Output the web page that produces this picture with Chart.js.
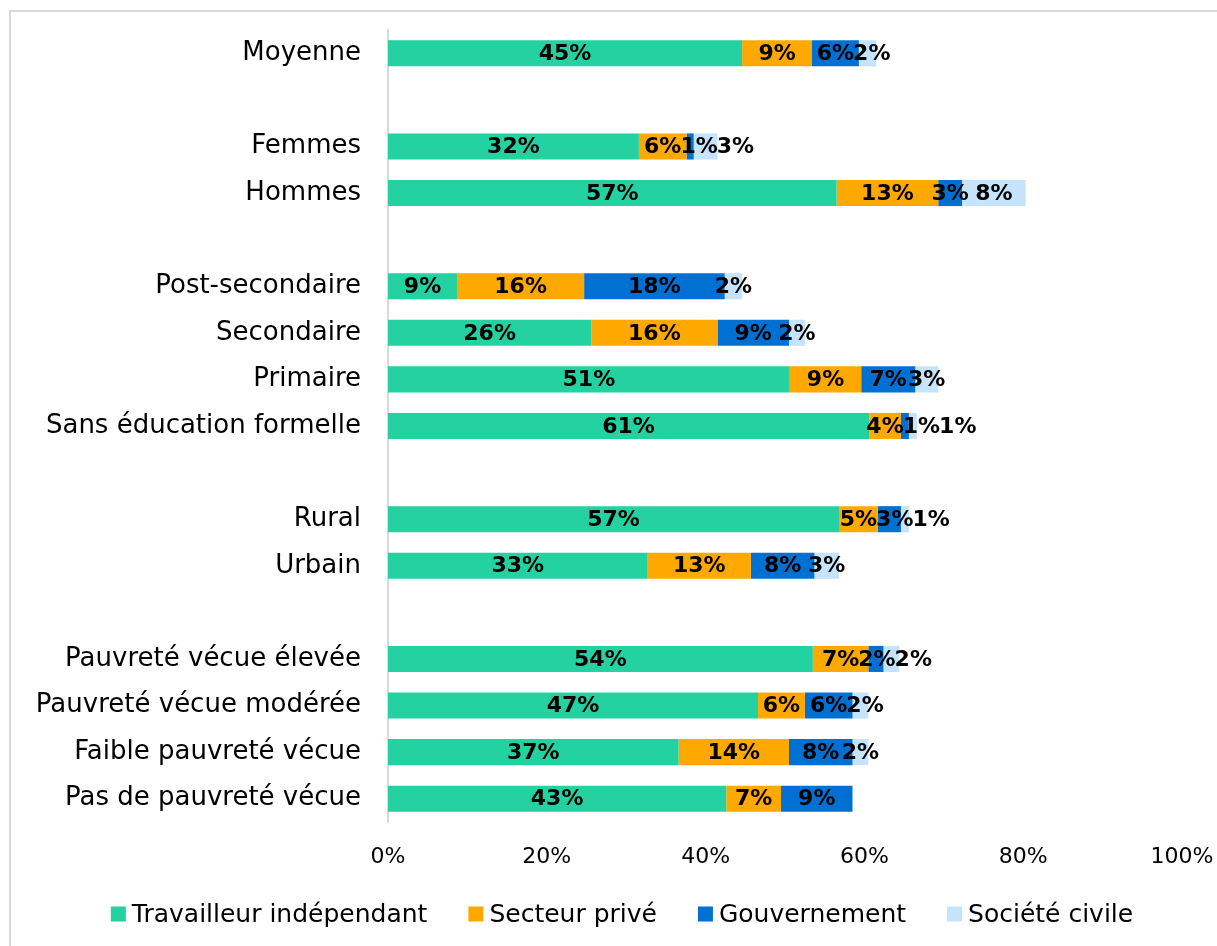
<!DOCTYPE html>
<html>
<head>
<meta charset="utf-8">
<script src="https://cdn.jsdelivr.net/npm/chart.js@4.4.1/dist/chart.umd.min.js"></script>
<style>
html,body{margin:0;padding:0;background:#fff;}
#wrap{width:1217px;height:946px;position:relative;}
</style>
</head>
<body>
<div id="wrap"><canvas id="c" width="1217" height="946"></canvas></div>
<script>
const categories = ['Moyenne', '', 'Femmes', 'Hommes', '', 'Post-secondaire', 'Secondaire', 'Primaire', 'Sans éducation formelle', '', 'Rural', 'Urbain', '', 'Pauvreté vécue élevée', 'Pauvreté vécue modérée', 'Faible pauvreté vécue', 'Pas de pauvreté vécue'];
const seriesNames = ['Travailleur indépendant', 'Secteur privé', 'Gouvernement', 'Société civile'];
const travailleurIndependant = [44.6, null, 31.6, 56.5, null, 8.7, 25.6, 50.6, 60.6, null, 56.8, 32.7, null, 53.5, 46.6, 36.6, 42.6];
const secteurPrive = [8.8, null, 6.0, 12.8, null, 16.0, 15.9, 9.0, 4.0, null, 4.9, 13.0, null, 7.0, 5.9, 13.9, 6.9];
const gouvernement = [5.9, null, 0.9, 3.0, null, 17.7, 9.0, 6.8, 1.0, null, 2.9, 8.0, null, 1.9, 6.0, 8.0, 9.0];
const societeCivile = [2.2, null, 3.0, 8.0, null, 2.2, 2.0, 2.9, 1.0, null, 1.0, 3.1, null, 2.0, 2.0, 2.0, 0];
const xTickValues = [0, 20, 40, 60, 80, 100];
const seriesColors = ['#24D1A1', '#FFA800', '#0070D2', '#C5E3FA'];

const seriesData = [travailleurIndependant, secteurPrive, gouvernement, societeCivile];

const frameAndBg = {
  id: 'frameAndBg',
  beforeDraw(chart) {
    const ctx = chart.ctx;
    ctx.save();
    ctx.fillStyle = '#fff';
    ctx.fillRect(0, 0, chart.width, chart.height);
    ctx.fillStyle = '#D9D9D9';
    ctx.fillRect(9, 10, 2, chart.height - 10);
    ctx.fillRect(9, 10, chart.width - 9, 2);
    ctx.restore();
  }
};

const segLabels = {
  id: 'segLabels',
  afterDatasetsDraw(chart) {
    const ctx = chart.ctx;
    ctx.save();
    ctx.font = 'bold 22px "DejaVu Sans"';
    ctx.fillStyle = '#000';
    ctx.textBaseline = 'middle';
    ctx.textAlign = 'left';
    const n = chart.data.labels.length;
    for (let i = 0; i < n; i++) {
      let prevRight = -Infinity;
      chart.data.datasets.forEach((ds, d) => {
        const v = ds.data[i];
        if (v == null || v <= 0) return;
        const el = chart.getDatasetMeta(d).data[i];
        const txt = Math.round(v) + '%';
        const w = ctx.measureText(txt).width;
        const cx = (el.x + el.base) / 2;
        let left = cx - w / 2;
        if (left < prevRight - 1) left = prevRight - 1;
        prevRight = left + w;
        ctx.fillText(txt, left, el.y + 1);
      });
    }
    ctx.restore();
  }
};

const customLegend = {
  id: 'customLegend',
  afterDraw(chart) {
    const ctx = chart.ctx;
    ctx.save();
    ctx.font = '25px "DejaVu Sans"';
    ctx.textBaseline = 'middle';
    ctx.textAlign = 'left';
    const box = 15, gapText = 6, gapItem = 41;
    const items = chart.data.datasets.map(ds => ({ label: ds.label, color: ds.backgroundColor, w: ctx.measureText(ds.label).width }));
    const total = items.reduce((s, it) => s + box + gapText + it.w, 0) + gapItem * (items.length - 1);
    let x = 622 - total / 2;
    const y = 914;
    items.forEach(it => {
      ctx.fillStyle = it.color;
      ctx.fillRect(x, y - 7.5, box, box);
      ctx.fillStyle = '#000';
      ctx.fillText(it.label, x + box + gapText, y + 1);
      x += box + gapText + it.w + gapItem;
    });
    ctx.restore();
  }
};

new Chart(document.getElementById('c'), {
  type: 'bar',
  data: {
    labels: categories,
    datasets: seriesNames.map((name, k) => ({
      label: name,
      data: seriesData[k],
      backgroundColor: seriesColors[k],
      borderWidth: 0,
      categoryPercentage: 1,
      barPercentage: 0.56
    }))
  },
  options: {
    responsive: false,
    animation: false,
    indexAxis: 'y',
    layout: { padding: { left: 0, right: 35, top: 30, bottom: 0 } },
    plugins: { legend: { display: false }, tooltip: { enabled: false } },
    scales: {
      x: {
        stacked: true,
        min: 0,
        max: 100,
        afterBuildTicks(scale) { scale.ticks = xTickValues.map(v => ({ value: v })); },
        ticks: { callback: v => v + '%', font: { family: 'DejaVu Sans', size: 22 }, color: '#000', padding: 22, maxRotation: 0, autoSkip: false },
        grid: { display: false, drawTicks: false },
        border: { display: false },
        afterFit(scale) { scale.height = 124; scale.paddingLeft = 0; scale.paddingRight = 0; }
      },
      y: {
        stacked: true,
        ticks: { font: { family: 'DejaVu Sans', size: 26 }, color: '#000', padding: 27, autoSkip: false },
        grid: { display: false, drawTicks: false },
        border: { display: true, color: '#D9D9D9', width: 2 },
        afterFit(scale) { scale.width = 388; scale.paddingTop = 0; scale.paddingBottom = 0; }
      }
    }
  },
  plugins: [frameAndBg, segLabels, customLegend]
});
</script>
</body>
</html>
